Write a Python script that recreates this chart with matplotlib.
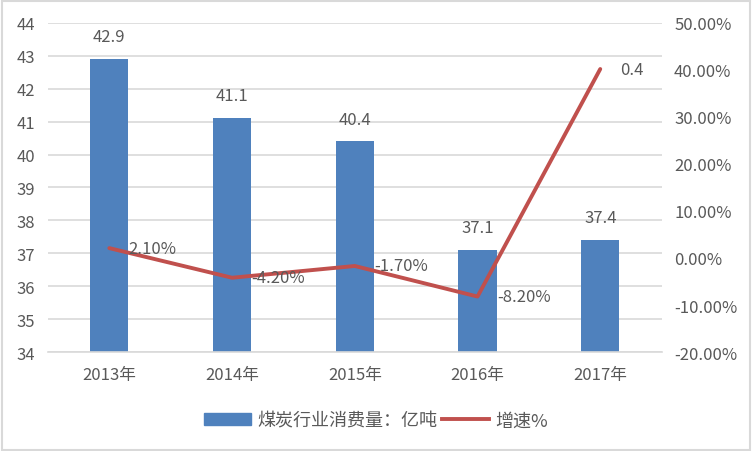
import matplotlib
matplotlib.use("Agg")
import matplotlib.pyplot as plt
from matplotlib.patches import Rectangle, Patch
from matplotlib.lines import Line2D
from matplotlib.ticker import FuncFormatter

plt.rcParams['font.family'] = ['Noto Sans CJK SC', 'DejaVu Sans']

categories = ["2013年", "2014年", "2015年", "2016年", "2017年"]
consumption = [42.9, 41.1, 40.4, 37.1, 37.4]
growth = [2.1, -4.2, -1.7, -8.2, 40.2]
growth_labels = ["2.10%", "-4.20%", "-1.70%", "-8.20%", "0.4"]
bar_name = "煤炭行业消费量：亿吨"
line_name = "增速%"

TXT = "#595959"
BAR = "#4f81bd"
LINE = "#c0504d"
GRID = "#d9d9d9"
FS = 12

fig = plt.figure(figsize=(7.52, 4.52), dpi=100)
ax = fig.add_axes([0.0638, 0.219, 0.816, 0.728])
x = list(range(len(categories)))

ax.bar(x, [v - 34 for v in consumption], bottom=34, width=0.31, color=BAR, zorder=2)
ax.set_ylim(34, 44)
ax.set_xlim(-0.5, len(categories) - 0.5)
ax.set_yticks(range(34, 45))
ax.grid(axis='y', color=GRID, linewidth=1.2, zorder=0)
ax.set_axisbelow(True)
for s in ['top', 'right', 'left']:
    ax.spines[s].set_visible(False)
ax.spines['bottom'].set_color(GRID)
ax.spines['bottom'].set_linewidth(1.2)
ax.set_xticks(x)
ax.set_xticklabels(categories)
ax.tick_params(axis='both', length=0, colors=TXT, labelsize=FS)
ax.tick_params(axis='x', pad=10)
ax.tick_params(axis='y', pad=9)

for xi, v in zip(x, consumption):
    ax.annotate(f"{v}", (xi, v), xytext=(0, 10), textcoords='offset points',
                ha='center', va='bottom', color=TXT, fontsize=FS)

ax2 = ax.twinx()
ax2.plot(x, growth, color=LINE, linewidth=2.8, solid_capstyle='round', zorder=3)
ax2.set_ylim(-20, 50)
ax2.set_yticks(range(-20, 51, 10))
ax2.yaxis.set_major_formatter(FuncFormatter(lambda v, p: f"{v:.2f}%"))
ax2.tick_params(axis='y', length=0, colors=TXT, labelsize=FS, pad=9)
for s in ['top', 'right', 'left', 'bottom']:
    ax2.spines[s].set_visible(False)
for xi, v, lab in zip(x, growth, growth_labels):
    ax2.annotate(lab, (xi, v), xytext=(14, 0), textcoords='offset points',
                 ha='left', va='center', color=TXT, fontsize=FS)

handles = [Patch(facecolor=BAR, edgecolor=BAR),
           Line2D([0], [0], color=LINE, linewidth=2.8)]
fig.legend(handles, [bar_name, line_name], loc='center', bbox_to_anchor=(0.5, 0.068),
           ncol=2, frameon=False, fontsize=13, labelcolor=TXT,
           handlelength=2.6, handletextpad=0.35, columnspacing=0.3)

fig.patches.append(Rectangle((0.002, 0.003), 0.995, 0.993, transform=fig.transFigure,
                             fill=False, edgecolor=GRID, linewidth=1.5))

fig.savefig("out.png", dpi=100)
